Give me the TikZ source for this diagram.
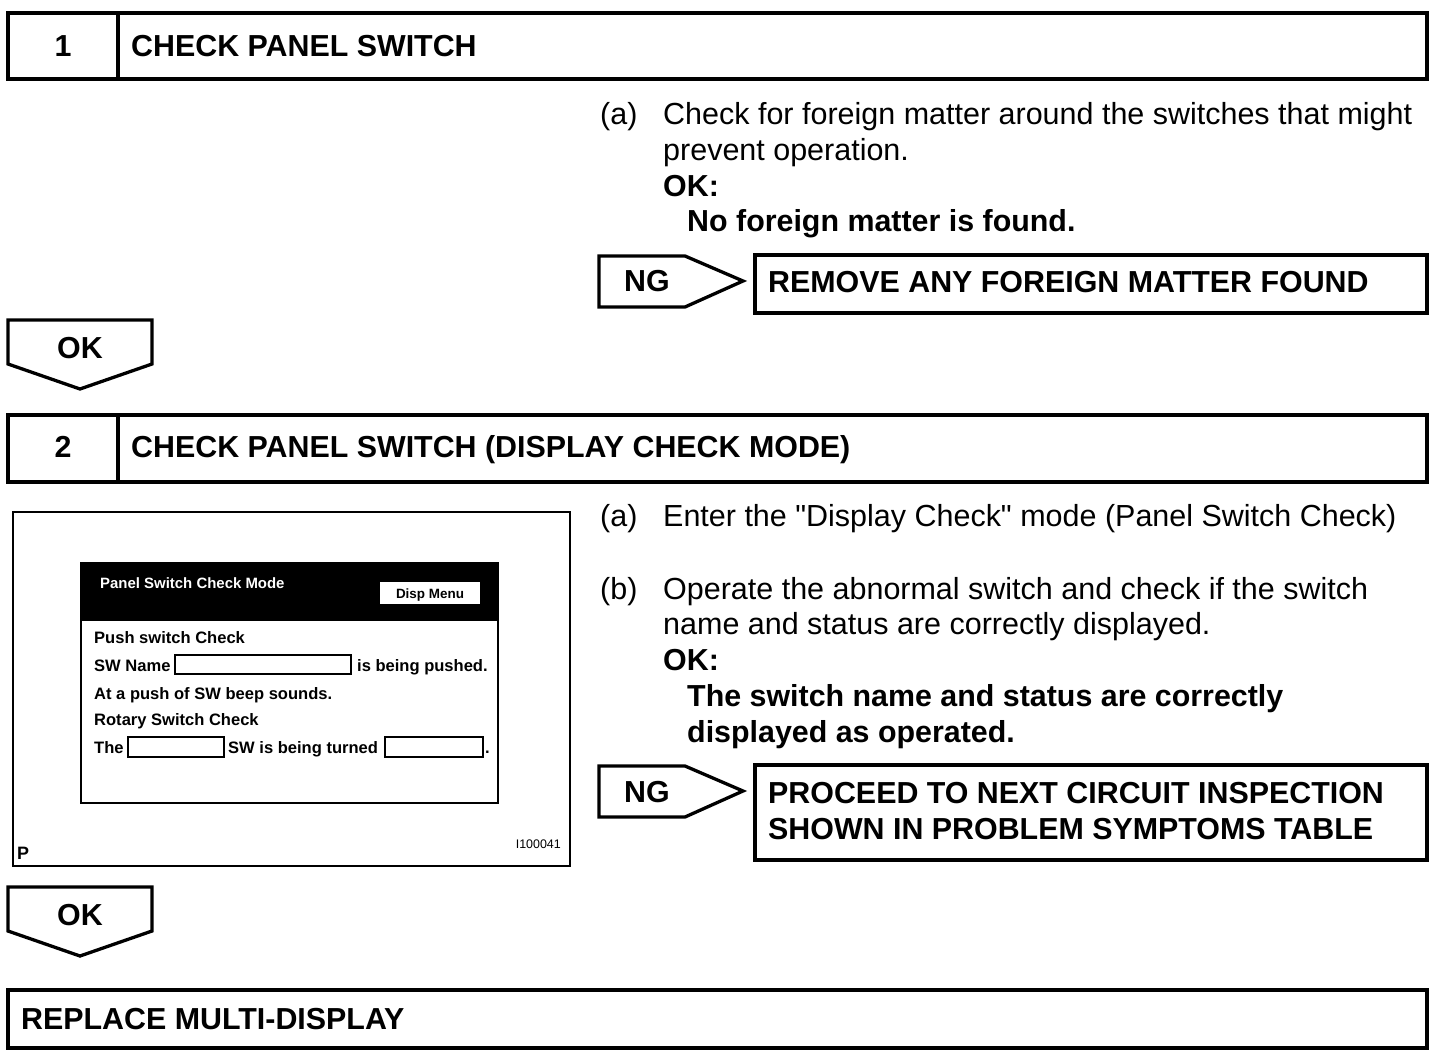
\documentclass[tikz,border=0pt]{standalone}
\usepackage{fontspec}
\setmainfont{Liberation Sans}
\newfontfamily\qf{Liberation Sans}[Ligatures=TeXOff]
\begin{document}
\begin{tikzpicture}[x=1bp,y=-1bp,
  box/.style={line width=3.3bp},
  ttl/.style={font=\fontsize{30.5}{36}\selectfont\bfseries, anchor=base west, inner sep=0},
  num/.style={font=\fontsize{30.5}{36}\selectfont\bfseries, anchor=base, inner sep=0},
  body/.style={font=\fontsize{30.6}{36}\selectfont, anchor=base west, inner sep=0},
  bodyb/.style={font=\fontsize{30.5}{36}\selectfont\bfseries, anchor=base west, inner sep=0},
  scr/.style={font=\fontsize{16.6}{20}\selectfont\bfseries, anchor=base west, inner sep=0},
  fld/.style={line width=1.5bp}
]
\path[use as bounding box] (0,0) rectangle (1456,1058);

% Step 1 header
\draw[box] (8,13) rectangle (1427,79);
\draw[box] (118,13) -- (118,79);
\node[num] (n1) at (63,56) {1};
\node[ttl] (t1) at (131,56) {CHECK PANEL SWITCH};

% Step 1 text
\node[body] (a1) at (600,124) {(a)};
\node[body] (a1l1) at (663,124) {Check for foreign matter around the switches that might};
\node[body] (a1l2) at (663,160) {prevent operation.};
\node[bodyb] (ok1) at (663,196) {OK:};
\node[bodyb] (ok1t) at (687,231) {No foreign matter is found.};

% NG 1
\draw[box] (599,256) -- (685,256) -- (743,281) -- (685,307) -- (599,307) -- cycle;
\node[ttl] (ng1) at (624,291) {NG};
\draw[box] (755,255) rectangle (1427,313);
\node[ttl] (r1) at (768,292) {REMOVE ANY FOREIGN MATTER FOUND};

% OK 1
\draw[box] (8,320) -- (152,320) -- (152,364) -- (80,389) -- (8,364) -- cycle;
\node[num] (okA) at (80,358) {OK};

% Step 2 header
\draw[box] (8,415) rectangle (1427,482);
\draw[box] (118,415) -- (118,482);
\node[num] (n2) at (63,457) {2};
\node[ttl] (t2) at (131,457) {CHECK PANEL SWITCH (DISPLAY CHECK MODE)};

% Picture
\draw[line width=2bp] (13,512) rectangle (570,866);
\fill[black] (81,563) rectangle (498,621);
\draw[line width=2.5bp] (81,563) rectangle (498,803);
\node[font=\fontsize{15}{17}\selectfont\bfseries, text=white, anchor=base west, inner sep=0] (psm) at (100,588) {Panel Switch Check Mode};
\fill[white] (380,582) rectangle (480,604);
\node[font=\fontsize{13.5}{16}\selectfont\bfseries, anchor=base, inner sep=0] (dm) at (430,598) {Disp Menu};
\node[scr] (s1) at (94,643) {Push switch Check};
\node[scr] (s2) at (94,671) {SW Name};
\draw[fld] (175,655) rectangle (351,674);
\node[scr] (s2b) at (357,671) {is being pushed.};
\node[scr] (s3) at (94,699) {At a push of SW beep sounds.};
\node[scr] (s4) at (94,725) {Rotary Switch Check};
\node[scr] (s5) at (94,753) {The};
\draw[fld] (128,737) rectangle (224,757);
\node[scr] (s5b) at (228,753) {SW is being turned};
\draw[fld] (385,737) rectangle (483,757);
\node[scr] (s5c) at (485,753) {.};
\node[font=\fontsize{18}{20}\selectfont\bfseries, anchor=base west, inner sep=0] (pp) at (17,859) {P};
\node[font=\fontsize{12.5}{14}\selectfont, anchor=base east, inner sep=0] (code) at (561,848) {I100041};

% Step 2 text
\node[body] (a2) at (600,526) {(a)};
\node[body] (a2l1) at (663,526) {Enter the {\qf"}Display Check{\qf"} mode (Panel Switch Check)};
\node[body] (b2) at (600,599) {(b)};
\node[body] (b2l1) at (663,599) {Operate the abnormal switch and check if the switch};
\node[body] (b2l2) at (663,634) {name and status are correctly displayed.};
\node[bodyb] (ok2) at (663,670) {OK:};
\node[bodyb] (ok2t1) at (687,706) {The switch name and status are correctly};
\node[bodyb] (ok2t2) at (687,742) {displayed as operated.};

% NG 2
\draw[box] (599,766) -- (685,766) -- (743,791) -- (685,817) -- (599,817) -- cycle;
\node[ttl] (ng2) at (624,802) {NG};
\draw[box] (755,765) rectangle (1427,860);
\node[ttl] (p1) at (768,803) {PROCEED TO NEXT CIRCUIT INSPECTION};
\node[ttl] (p2) at (768,839) {SHOWN IN PROBLEM SYMPTOMS TABLE};

% OK 2
\draw[box] (8,887) -- (152,887) -- (152,931) -- (80,956) -- (8,931) -- cycle;
\node[num] (okB) at (80,925) {OK};

% Final
\draw[box] (8,990) rectangle (1427,1048);
\node[ttl] (rep) at (21,1029) {REPLACE MULTI-DISPLAY};
\end{tikzpicture}
\end{document}
